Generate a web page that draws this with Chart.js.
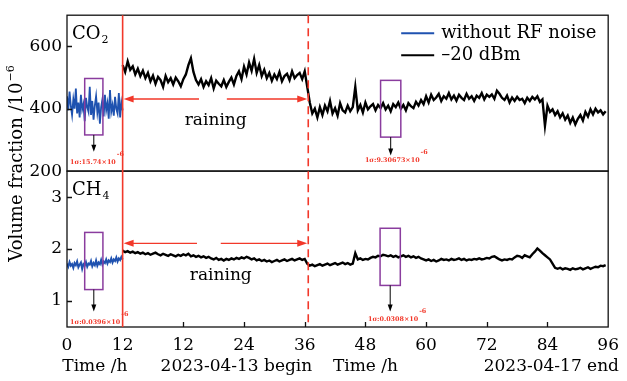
<!DOCTYPE html>
<html>
<head>
<meta charset="utf-8">
<script src="https://cdn.jsdelivr.net/npm/chart.js@4"></script>
<style>
  html, body { margin: 0; padding: 0; background: #fff; }
</style>
</head>
<body>
<canvas id="chart" width="627" height="381"></canvas>
<script>
// time axis: baseline run is drawn on -11..0, the measurement run on 0..96
const refStart = -11, refStep = 0.25;
const runStart = 0, runStep = 0.5;

const xTickValues = [-11, 0, 12, 24, 36, 48, 60, 72, 84, 96];
const xTickLabels = ['0', '12', '12', '24', '36', '48', '60', '72', '84', '96'];
const co2Ticks = [200, 400, 600];
const ch4Ticks = [1, 2, 3];
const seriesLabels = ['without RF noise', '\u201320 dBm'];

const co2Ref = [440, 395, 455, 410, 380, 430, 400, 465, 385, 420, 372, 445, 398, 415, 360,
  435, 405, 390, 470, 380, 425, 365, 410, 440, 388, 420, 352, 405, 430, 375, 445, 395, 418,
  368, 460, 390, 412, 378, 438, 400, 385, 450, 372, 420, 395];

const co2Run = [
  540, 518, 552, 525, 536, 510, 528, 505, 522, 498,
  515, 488, 506, 480, 502, 492, 470, 505, 485, 498,
  478, 500, 488, 472, 495, 510, 540, 562, 518, 492,
  478, 495, 470, 488, 476, 498, 465, 490, 480, 472,
  492, 470, 486, 500, 478, 505, 520, 495, 535, 510,
  548, 522, 560, 515, 540, 505, 525, 498, 515, 490,
  510, 495, 518, 488, 505, 512, 492, 520, 498, 508,
  515, 495, 520, 470, 420, 385, 400, 372, 405, 380,
  410, 392, 425, 385, 402, 378, 418, 395, 388, 410,
  392, 405, 470, 395, 412, 388, 420, 398, 408, 415,
  395, 412, 402, 418, 398, 410, 392, 415, 405, 420,
  400, 412, 395, 418, 408, 402, 422, 410, 428, 415,
  440, 420, 445, 428, 436, 448, 425, 440, 432, 450,
  430, 442, 426, 445, 435, 428, 448, 432, 440, 425,
  442, 435, 450, 430, 445, 438, 446, 432, 458, 448,
  435, 428, 442, 420, 436, 425, 438, 428, 432, 418,
  435, 425, 438, 430, 440, 422, 430, 345, 410, 390,
  398, 380, 392, 372, 385, 365, 378, 355, 372, 350,
  368, 380, 362, 390, 375, 398, 382, 400, 388, 395,
  382, 392];

const ch4Ref = [1.72, 1.66, 1.75, 1.68, 1.71, 1.64, 1.73, 1.69, 1.76, 1.65,
  1.70, 1.74, 1.62, 1.71, 1.68, 1.75, 1.66, 1.72, 1.70, 1.77,
  1.67, 1.73, 1.69, 1.78, 1.68, 1.74, 1.71, 1.79, 1.70, 1.76,
  1.73, 1.80, 1.72, 1.78, 1.75, 1.82, 1.74, 1.80, 1.77, 1.84,
  1.76, 1.82, 1.79, 1.85, 1.80];

const ch4Run = [
  1.97, 1.94, 1.96, 1.93, 1.95, 1.92, 1.94, 1.91, 1.93, 1.90,
  1.92, 1.89, 1.91, 1.93, 1.90, 1.88, 1.91, 1.89, 1.87, 1.90,
  1.88, 1.86, 1.89, 1.87, 1.90, 1.88, 1.91, 1.86, 1.88, 1.85,
  1.87, 1.84, 1.86, 1.83, 1.85, 1.82, 1.80, 1.83, 1.79, 1.81,
  1.78, 1.81, 1.79, 1.82, 1.80, 1.83, 1.81, 1.84, 1.82, 1.85,
  1.83, 1.80, 1.82, 1.78, 1.80, 1.77, 1.79, 1.76, 1.78, 1.75,
  1.77, 1.79, 1.76, 1.78, 1.80, 1.77, 1.79, 1.81, 1.78, 1.80,
  1.82, 1.79, 1.81, 1.72, 1.68, 1.70, 1.67, 1.69, 1.71, 1.68,
  1.70, 1.72, 1.69, 1.71, 1.73, 1.70, 1.72, 1.74, 1.71, 1.73,
  1.70, 1.72, 1.92, 1.80, 1.82, 1.79, 1.81, 1.80, 1.83, 1.85,
  1.84, 1.87, 1.86, 1.89, 1.88, 1.86, 1.88, 1.85, 1.87, 1.84,
  1.86, 1.88, 1.85, 1.87, 1.84, 1.86, 1.83, 1.85, 1.82, 1.80,
  1.78, 1.80, 1.77, 1.79, 1.76, 1.78, 1.81, 1.79, 1.80, 1.78,
  1.81, 1.79, 1.80, 1.82, 1.79, 1.81, 1.78, 1.80, 1.79, 1.81,
  1.80, 1.82, 1.80, 1.81, 1.83, 1.82, 1.85, 1.86, 1.83, 1.80,
  1.78, 1.80, 1.79, 1.81, 1.80, 1.84, 1.87, 1.86, 1.83, 1.88,
  1.86, 1.84, 1.90, 1.95, 2.01, 1.97, 1.92, 1.88, 1.84, 1.80,
  1.72, 1.64, 1.62, 1.64, 1.61, 1.63, 1.62, 1.60, 1.63, 1.61,
  1.62, 1.64, 1.61, 1.63, 1.65, 1.62, 1.64, 1.66, 1.65, 1.68,
  1.67, 1.69];

const F = '"DejaVu Serif", serif';
const BLUE = '#1f52b0';
const RED = '#f2382a';
const PURPLE = '#8a3c9e';

function toPoints(values, start, step) {
  return values.map((v, i) => ({ x: start + i * step, y: v }));
}

// rain period markers, sigma boxes (in data units)
const rainStart = 0, rainEnd = 36.7;
const rainArrows = [
  { axis: 'yCO2', v: 431, gap: [15.1, 20.6], text: 362, textT: 18.4 },
  { axis: 'yCH4', v: 2.11, gap: [14.7, 19.4], text: 1.49, textT: 19.4 }
];
const sigmaBoxes = [
  { axis: 'yCO2', t: [-7.5, -3.9], v: [316, 497], tip: 262, note: '1\u03c3:15.74\u00d710', noteT: -10.4, noteV: 222 },
  { axis: 'yCO2', t: [51.0, 55.0], v: [309, 491], tip: 250, note: '1\u03c3:9.30673\u00d710', noteT: 47.9, noteV: 228 },
  { axis: 'yCH4', t: [-7.5, -3.9], v: [1.22, 2.32], tip: 0.80, note: '1\u03c3:0.0396\u00d710', noteT: -10.4, noteV: 0.55 },
  { axis: 'yCH4', t: [50.9, 54.9], v: [1.30, 2.40], tip: 0.80, note: '1\u03c3:0.0308\u00d710', noteT: 48.5, noteV: 0.61 }
];

function arrowHead(ctx, x, y, dx, dy, len, half) {
  const nx = -dy, ny = dx;
  ctx.beginPath();
  ctx.moveTo(x, y);
  ctx.lineTo(x - dx * len + nx * half, y - dy * len + ny * half);
  ctx.lineTo(x - dx * len - nx * half, y - dy * len - ny * half);
  ctx.closePath();
  ctx.fill();
}

const decor = {
  id: 'decor',
  afterDatasetsDraw(chart) {
    const { ctx, scales } = chart;
    const x = scales.x, yc = scales.yCO2, ym = scales.yCH4;
    ctx.save();

    // panel frames
    ctx.strokeStyle = '#111';
    ctx.lineWidth = 1.3;
    [yc, ym].forEach(s => ctx.strokeRect(x.left, s.top, x.right - x.left, s.bottom - s.top));

    // inward tick marks
    ctx.beginPath();
    xTickValues.slice(2, -1).forEach(v => {
      const px = Math.round(x.getPixelForValue(v)) + 0.5;
      ctx.moveTo(px, ym.bottom);
      ctx.lineTo(px, ym.bottom - 5);
    });
    co2Ticks.slice(1).forEach(v => {
      const py = Math.round(yc.getPixelForValue(v)) + 0.5;
      ctx.moveTo(x.left, py);
      ctx.lineTo(x.left + 5, py);
    });
    ch4Ticks.forEach(v => {
      const py = Math.round(ym.getPixelForValue(v)) + 0.5;
      ctx.moveTo(x.left, py);
      ctx.lineTo(x.left + 5, py);
    });
    ctx.stroke();

    // rain start / end lines
    ctx.strokeStyle = RED;
    ctx.lineWidth = 1.6;
    const xs = x.getPixelForValue(rainStart), xe = x.getPixelForValue(rainEnd);
    ctx.beginPath();
    ctx.moveTo(xs, yc.top); ctx.lineTo(xs, ym.bottom);
    ctx.stroke();
    ctx.setLineDash([8, 5]);
    ctx.beginPath();
    ctx.moveTo(xe, yc.top); ctx.lineTo(xe, ym.bottom);
    ctx.stroke();
    ctx.setLineDash([]);

    // raining arrows
    rainArrows.forEach(a => {
      const s = scales[a.axis];
      const py = s.getPixelForValue(a.v);
      const g0 = x.getPixelForValue(a.gap[0]), g1 = x.getPixelForValue(a.gap[1]);
      ctx.strokeStyle = RED; ctx.fillStyle = RED; ctx.lineWidth = 1.4;
      ctx.beginPath();
      ctx.moveTo(xs + 8, py); ctx.lineTo(g0, py);
      ctx.moveTo(g1, py); ctx.lineTo(xe - 8, py);
      ctx.stroke();
      arrowHead(ctx, xs + 1, py, -1, 0, 10, 3.5);
      arrowHead(ctx, xe - 1, py, 1, 0, 10, 3.5);
      ctx.fillStyle = '#000';
      ctx.font = '17px ' + F;
      ctx.textAlign = 'center';
      ctx.textBaseline = 'middle';
      ctx.fillText('raining', x.getPixelForValue(a.textT), s.getPixelForValue(a.text));
    });

    // sigma boxes
    sigmaBoxes.forEach(b => {
      const s = scales[b.axis];
      const l = x.getPixelForValue(b.t[0]), r = x.getPixelForValue(b.t[1]);
      const top = s.getPixelForValue(b.v[1]), bot = s.getPixelForValue(b.v[0]);
      ctx.strokeStyle = PURPLE; ctx.lineWidth = 1.5;
      ctx.strokeRect(l, top, r - l, bot - top);
      const cx = (l + r) / 2, tip = s.getPixelForValue(b.tip);
      ctx.strokeStyle = '#000'; ctx.fillStyle = '#000'; ctx.lineWidth = 1;
      ctx.beginPath();
      ctx.moveTo(cx, bot); ctx.lineTo(cx, tip - 5);
      ctx.stroke();
      arrowHead(ctx, cx, tip, 0, 1, 7, 2.5);
      ctx.fillStyle = RED;
      ctx.font = 'bold 6.4px ' + F;
      ctx.textAlign = 'left';
      ctx.textBaseline = 'alphabetic';
      const nx = x.getPixelForValue(b.noteT), ny = s.getPixelForValue(b.noteV);
      ctx.fillText(b.note, nx, ny);
      const w = ctx.measureText(b.note).width;
      ctx.fillText('-6', nx + w + 1, ny - 8);
    });

    // panel labels
    ctx.fillStyle = '#000';
    ctx.textAlign = 'left';
    ctx.textBaseline = 'alphabetic';
    [[yc, 'CO', '2'], [ym, 'CH', '4']].forEach(([s, main, sub]) => {
      ctx.font = '18px ' + F;
      const bx = x.left + 5, by = s.top + 24;
      ctx.fillText(main, bx, by);
      const w = ctx.measureText(main).width;
      ctx.font = '11px ' + F;
      ctx.fillText(sub, bx + w + 1, by + 4);
    });

    // legend
    const lx = x.right - 207, ly = yc.top + 18;
    [BLUE, '#000'].forEach((c, i) => {
      ctx.strokeStyle = c; ctx.lineWidth = 2;
      ctx.beginPath();
      ctx.moveTo(lx, ly + i * 22); ctx.lineTo(lx + 33, ly + i * 22);
      ctx.stroke();
      ctx.fillStyle = '#000';
      ctx.font = '18px ' + F;
      ctx.textBaseline = 'middle';
      ctx.fillText(seriesLabels[i], lx + 40, ly + i * 22);
    });

    // second row under the time axis
    ctx.font = '17px ' + F;
    ctx.textBaseline = 'middle';
    const rowY = ym.bottom + 40;
    ctx.textAlign = 'center';
    ctx.fillText('Time /h', x.getPixelForValue(-5.5), rowY);
    ctx.fillText('2023-04-13 begin', x.getPixelForValue(22.5), rowY);
    ctx.fillText('Time /h', x.getPixelForValue(48), rowY);
    ctx.textAlign = 'right';
    ctx.fillText('2023-04-17 end', chart.width - 8, rowY);

    // shared y title
    ctx.save();
    ctx.translate(17, (yc.top + ym.bottom) / 2 - 5);
    ctx.rotate(-Math.PI / 2);
    ctx.textAlign = 'center';
    ctx.font = '18px ' + F;
    const title = 'Volume fraction /10';
    const tw = ctx.measureText(title).width;
    ctx.fillText(title, -6, 0);
    ctx.font = '11px ' + F;
    ctx.textAlign = 'left';
    ctx.fillText('\u22126', -6 + tw / 2 + 1, -6);
    ctx.restore();

    ctx.restore();
  }
};

const tickFont = { family: F, size: 17 };

new Chart(document.getElementById('chart'), {
  type: 'line',
  data: {
    datasets: [
      { label: seriesLabels[0], data: toPoints(co2Ref, refStart, refStep), yAxisID: 'yCO2', borderColor: BLUE, borderWidth: 1.8 },
      { label: seriesLabels[1], data: toPoints(co2Run, runStart, runStep), yAxisID: 'yCO2', borderColor: '#000', borderWidth: 2.4 },
      { label: seriesLabels[0], data: toPoints(ch4Ref, refStart, refStep), yAxisID: 'yCH4', borderColor: BLUE, borderWidth: 2 },
      { label: seriesLabels[1], data: toPoints(ch4Run, runStart, runStep), yAxisID: 'yCH4', borderColor: '#000', borderWidth: 2.4 }
    ]
  },
  options: {
    responsive: false,
    animation: false,
    devicePixelRatio: 1,
    layout: { padding: { left: 0, top: 8, right: 15, bottom: 0 } },
    elements: { point: { radius: 0 }, line: { tension: 0 } },
    plugins: { legend: { display: false }, tooltip: { enabled: false } },
    scales: {
      x: {
        type: 'linear', min: -11, max: 96,
        grid: { display: false, drawTicks: false },
        border: { display: false },
        afterBuildTicks: s => { s.ticks = xTickValues.map(v => ({ value: v })); },
        afterFit: s => { s.height = 54; },
        ticks: {
          font: tickFont, color: '#000', padding: 8, maxRotation: 0, autoSkip: false,
          callback: v => xTickLabels[xTickValues.indexOf(v)]
        }
      },
      yCH4: {
        type: 'linear', position: 'left', stack: 'panels', stackWeight: 1,
        min: 0.5, max: 3.5,
        grid: { display: false, drawTicks: false },
        border: { display: false },
        afterBuildTicks: s => { s.ticks = ch4Ticks.map(v => ({ value: v })); },
        afterFit: s => { s.width = 67; },
        ticks: { font: tickFont, color: '#000', padding: 5 }
      },
      yCO2: {
        type: 'linear', position: 'left', stack: 'panels', stackWeight: 1,
        min: 200, max: 700,
        grid: { display: false, drawTicks: false },
        border: { display: false },
        afterBuildTicks: s => { s.ticks = co2Ticks.map(v => ({ value: v })); },
        afterFit: s => { s.width = 67; },
        ticks: { font: tickFont, color: '#000', padding: 5 }
      }
    }
  },
  plugins: [decor]
});
</script>
</body>
</html>
